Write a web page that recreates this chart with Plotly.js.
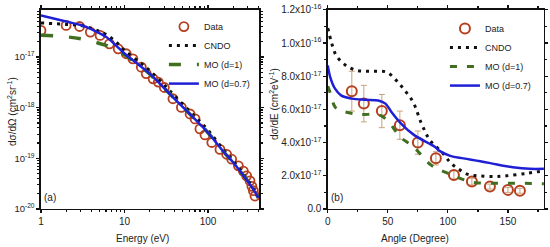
<!DOCTYPE html>
<html>
<head>
<meta charset="utf-8">
<script src="https://cdn.plot.ly/plotly-3.0.1.min.js"></script>
<style>
  body { margin: 0; background: white; }
  #chart { width: 550px; height: 247px; }
</style>
</head>
<body>
<div id="chart"></div>
<script>
// panel (a): energy distribution
var energyData = [1, 2, 2.9, 3.9, 5.1, 6.6, 8.4, 10.5, 12.6, 15.9, 18.2, 22, 25.4, 30, 38, 48, 61, 70, 80, 92, 111, 139, 167, 192, 231, 265, 290, 318, 335, 349, 365];
var sigmaData = [3.35e-17, 4.2e-17, 4.0e-17, 3.1e-17, 2.67e-17, 1.82e-17, 1.45e-17, 1.16e-17, 9.2e-18, 6.3e-18, 4.7e-18, 3.7e-18, 3.2e-18, 2.5e-18, 1.5e-18, 1.01e-18, 7.5e-19, 6.0e-19, 3.8e-19, 2.9e-19, 2.05e-19, 1.5e-19, 1.2e-19, 9.6e-20, 7.1e-20, 5.6e-20, 4.5e-20, 3.6e-20, 2.8e-20, 2.3e-20, 1.8e-20];

var energyCurve = [1, 2, 3, 4, 5, 6, 8, 10, 15, 20, 30, 40, 60, 80, 100, 150, 200, 250, 300, 350, 400];
var cndoA = [4.7e-17, 4.4e-17, 4.2e-17, 3.7e-17, 3.2e-17, 2.8e-17, 1.95e-17, 1.35e-17, 8.0e-18, 5.4e-18, 2.8e-18, 1.7e-18, 8.6e-19, 5.3e-19, 3.6e-19, 1.55e-19, 9.0e-20, 5.6e-20, 3.7e-20, 2.5e-20, 1.7e-20];
var mo1A = [2.7e-17, 2.5e-17, 2.3e-17, 2.1e-17, 1.85e-17, 1.7e-17, 1.35e-17, 1.1e-17, 6.8e-18, 4.6e-18, 2.4e-18, 1.48e-18, 7.6e-19, 4.7e-19, 3.2e-19, 1.4e-19, 8.3e-20, 5.2e-20, 3.5e-20, 2.4e-20, 1.66e-20];
var mo07A = [6.6e-17, 5.0e-17, 4.27e-17, 3.55e-17, 2.95e-17, 2.5e-17, 1.66e-17, 1.17e-17, 6.9e-18, 4.7e-18, 2.4e-18, 1.48e-18, 7.6e-19, 4.7e-19, 3.2e-19, 1.41e-19, 8.3e-20, 5.2e-20, 3.5e-20, 2.4e-20, 1.66e-20];

var yTicksA = [1e-20, 1e-19, 1e-18, 1e-17];
var yTextA = ['10<sup>-20</sup>', '10<sup>-19</sup>', '10<sup>-18</sup>', '10<sup>-17</sup>'];

// panel (b): angular distribution
var angleData = [20, 30, 45, 60, 75, 90, 105, 120, 135, 150, 160];
var sigmaB = [7.1e-17, 6.35e-17, 5.9e-17, 5.05e-17, 4.0e-17, 3.05e-17, 2.05e-17, 1.65e-17, 1.35e-17, 1.15e-17, 1.1e-17];
var errB = [1.2e-17, 1.1e-17, 1.0e-17, 0.85e-17, 0.7e-17, 0.4e-17, 0.25e-17, 0.2e-17, 0.15e-17, 0.15e-17, 0.15e-17];

var angleCndo = [0, 3, 7, 15, 24, 32, 40, 49, 57, 64, 71, 78, 85, 96, 102, 109, 116, 125, 138, 149, 166, 180];
var cndoB = [10.9e-17, 10.05e-17, 9.25e-17, 8.65e-17, 8.35e-17, 8.3e-17, 8.3e-17, 8.25e-17, 7.75e-17, 7.15e-17, 6.45e-17, 5.15e-17, 4.15e-17, 3.35e-17, 2.8e-17, 2.4e-17, 2.1e-17, 2.0e-17, 1.95e-17, 2.0e-17, 2.15e-17, 2.3e-17];

var angleMo1 = [0, 2, 6, 10, 25, 30, 45, 57, 60, 72, 86, 102, 120, 141, 160, 180];
var mo1B = [7.4e-17, 7.0e-17, 6.15e-17, 5.95e-17, 5.7e-17, 5.7e-17, 5.6e-17, 4.65e-17, 4.35e-17, 3.7e-17, 2.65e-17, 2.1e-17, 1.62e-17, 1.55e-17, 1.55e-17, 1.52e-17];

var angleMo07 = [0, 2, 6, 11, 20, 31, 42, 48, 53, 61, 72, 89, 93, 102, 113, 127, 141, 154, 168, 180];
var mo07B = [8.65e-17, 7.95e-17, 7.25e-17, 6.85e-17, 6.65e-17, 6.58e-17, 6.54e-17, 6.35e-17, 5.85e-17, 5.15e-17, 4.45e-17, 3.75e-17, 3.5e-17, 3.2e-17, 3.05e-17, 2.88e-17, 2.68e-17, 2.52e-17, 2.42e-17, 2.42e-17];

var yTicksB = [0, 2e-17, 4e-17, 6e-17, 8e-17, 1e-16, 1.2e-16];
var yTextB = ['0.0', '2.0x10<sup>-17</sup>', '4.0x10<sup>-17</sup>', '6.0x10<sup>-17</sup>',
              '8.0x10<sup>-17</sup>', '1.0x10<sup>-16</sup>', '1.2x10<sup>-16</sup>'];

var RED = '#b5401f', GREEN = '#3f6f1f', BLUE = '#1f1fd6', BLACK = '#111';

// minor tick positions for the log axes
var minorE = [], minorS = [];
[1, 10, 100].forEach(function (d) {
  for (var k = 2; k <= 9; k++) if (k * d <= 408) minorE.push(k * d);
});
[-20, -19, -18, -17].forEach(function (p) {
  for (var k = 2; k <= 9; k++) minorS.push(k * Math.pow(10, p));
});

var traces = [
  { x: energyData, y: sigmaData, type: 'scatter', mode: 'markers', name: 'Data',
    marker: { symbol: 'circle-open', size: 9, color: RED, line: { width: 1.8, color: RED } },
    xaxis: 'x', yaxis: 'y', legend: 'legend' },
  { x: energyCurve, y: cndoA, type: 'scatter', mode: 'lines', name: 'CNDO',
    line: { color: BLACK, width: 3, dash: '3px,5px', shape: 'spline' },
    xaxis: 'x', yaxis: 'y', legend: 'legend' },
  { x: energyCurve, y: mo1A, type: 'scatter', mode: 'lines', name: 'MO (d=1)',
    line: { color: GREEN, width: 3.5, dash: '12px,16px', shape: 'spline' },
    xaxis: 'x', yaxis: 'y', legend: 'legend' },
  { x: energyCurve, y: mo07A, type: 'scatter', mode: 'lines', name: 'MO (d=0.7)',
    line: { color: BLUE, width: 2.5, shape: 'spline' },
    xaxis: 'x', yaxis: 'y', legend: 'legend' },

  { x: angleData, y: sigmaB, type: 'scatter', mode: 'markers', name: 'Data',
    marker: { symbol: 'circle-open', size: 10, color: RED, line: { width: 2, color: RED } },
    error_y: { type: 'data', array: errB, color: '#c8a27c', thickness: 1, width: 3 },
    xaxis: 'x2', yaxis: 'y2', legend: 'legend2' },
  { x: angleCndo, y: cndoB, type: 'scatter', mode: 'lines', name: 'CNDO',
    line: { color: BLACK, width: 3, dash: '3px,5px', shape: 'spline' },
    xaxis: 'x2', yaxis: 'y2', legend: 'legend2' },
  { x: angleMo1, y: mo1B, type: 'scatter', mode: 'lines', name: 'MO (d=1)',
    line: { color: GREEN, width: 3, dash: '7px,10px', shape: 'spline' },
    xaxis: 'x2', yaxis: 'y2', legend: 'legend2' },
  { x: angleMo07, y: mo07B, type: 'scatter', mode: 'lines', name: 'MO (d=0.7)',
    line: { color: BLUE, width: 2.5, shape: 'spline' },
    xaxis: 'x2', yaxis: 'y2', legend: 'legend2' }
];

var axisBase = {
  showline: true, linecolor: BLACK, linewidth: 1.5, mirror: 'ticks',
  ticks: 'outside', ticklen: 3, tickwidth: 1.2, tickcolor: BLACK,
  showgrid: false, zeroline: false, tickfont: { size: 10, color: '#222' }
};

function label(text, px, py, angle) {
  return { text: text, xref: 'paper', yref: 'paper', x: px / 550, y: 1 - py / 247,
           xanchor: 'center', yanchor: 'middle', textangle: angle || 0,
           showarrow: false, font: { size: 10 } };
}

var layout = {
  width: 550, height: 247,
  margin: { l: 0, r: 0, t: 0, b: 0 },
  paper_bgcolor: 'white', plot_bgcolor: 'white',
  font: { family: 'Liberation Sans, Arial, sans-serif', size: 10, color: '#222' },
  xaxis: Object.assign({}, axisBase, {
    domain: [0.0745, 0.471], anchor: 'y', type: 'log', range: [0, 2.611],
    tickvals: [1, 10, 100], ticktext: ['1', '10', '100'],
    minor: { tickvals: minorE, ticks: 'outside', ticklen: 2, tickcolor: BLACK }
  }),
  yaxis: Object.assign({}, axisBase, {
    domain: [0.154, 0.96], anchor: 'x', type: 'log', range: [-20, -16.07],
    tickvals: yTicksA, ticktext: yTextA, tickfont: { size: 9.5, color: '#222' },
    minor: { tickvals: minorS, ticks: 'outside', ticklen: 2, tickcolor: BLACK }
  }),
  xaxis2: Object.assign({}, axisBase, {
    domain: [0.596, 0.989], anchor: 'y2', range: [0, 180],
    tickvals: [0, 50, 100, 150],
    minor: { dtick: 25, ticks: 'outside', ticklen: 2, tickcolor: BLACK }
  }),
  yaxis2: Object.assign({}, axisBase, {
    domain: [0.154, 0.96], anchor: 'x2', range: [0, 1.2e-16],
    tickvals: yTicksB, ticktext: yTextB,
    minor: { dtick: 1e-17, ticks: 'outside', ticklen: 2, tickcolor: BLACK }
  }),
  legend: {
    x: 0.298, y: 0.951, xanchor: 'left', yanchor: 'top',
    bgcolor: 'rgba(0,0,0,0)', font: { size: 9, color: '#222' }, tracegroupgap: 0
  },
  legend2: {
    x: 0.809, y: 0.943, xanchor: 'left', yanchor: 'top',
    bgcolor: 'rgba(0,0,0,0)', font: { size: 9, color: '#222' }, tracegroupgap: 0
  },
  annotations: [
    label('Energy (eV)', 142, 238),
    label('Angle (Degree)', 415, 238),
    label('dσ/dΩ (cm<sup>2</sup>sr<sup>-1</sup>)', 12, 112, -90),
    label('dσ/dE (cm<sup>2</sup>eV<sup>-1</sup>)', 274, 104, -90),
    label('(a)', 50, 197),
    label('(b)', 337, 197)
  ]
};

Plotly.newPlot('chart', traces, layout, { staticPlot: true, displayModeBar: false });
</script>
</body>
</html>
